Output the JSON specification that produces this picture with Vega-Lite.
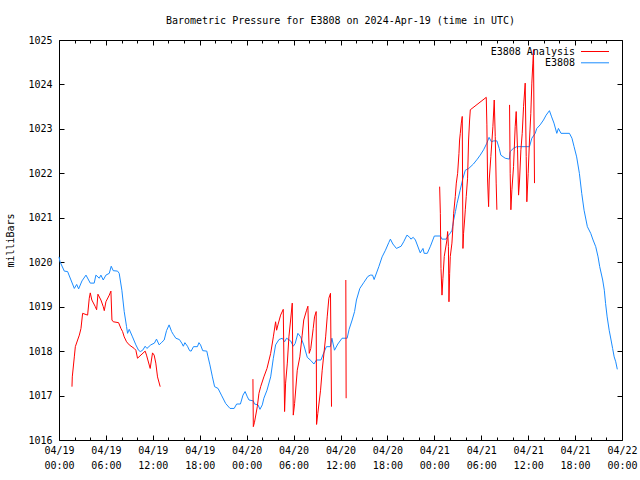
{
  "$schema": "https://vega.github.io/schema/vega-lite/v6.json",
  "width": 563,
  "height": 400,
  "autosize": "none",
  "padding": {"left": 59, "top": 40, "right": 18, "bottom": 40},
  "background": "white",
  "title": {"text": "Barometric Pressure for E3808 on 2024-Apr-19 (time in UTC)", "font": "DejaVu Sans Mono", "fontSize": 10, "fontWeight": "normal", "color": "black", "offset": 9},
  "config": {
    "view": {"stroke": "black", "strokeWidth": 1},
    "axis": {"domain": false, "grid": false, "labelFont": "DejaVu Sans Mono", "labelFontSize": 10, "labelColor": "black", "tickColor": "black", "tickWidth": 1, "titleFont": "DejaVu Sans Mono", "titleFontSize": 10, "titleFontWeight": "normal", "titleColor": "black", "labelOverlap": false, "labelFlush": false},
    "legend": {"labelFont": "DejaVu Sans Mono", "labelFontSize": 10, "labelColor": "black"}
  },
  "datasets": {
    "station": [
      {"h":0,"p":1020.12},{"h":0.13,"p":1020.01},{"h":0.68,"p":1019.8},{"h":1.1,"p":1019.79},{"h":1.96,"p":1019.41},{"h":2.26,"p":1019.5},{"h":2.51,"p":1019.4},{"h":2.94,"p":1019.58},{"h":3.45,"p":1019.71},{"h":4.0,"p":1019.53},{"h":4.5,"p":1019.53},{"h":4.72,"p":1019.71},{"h":5.15,"p":1019.64},{"h":5.36,"p":1019.71},{"h":5.66,"p":1019.6},{"h":6.0,"p":1019.71},{"h":6.43,"p":1019.75},{"h":6.68,"p":1019.91},{"h":6.93,"p":1019.81},{"h":7.49,"p":1019.8},{"h":7.7,"p":1019.75},{"h":8.04,"p":1019.37},{"h":8.34,"p":1018.89},{"h":8.64,"p":1018.55},{"h":8.77,"p":1018.4},{"h":8.98,"p":1018.49},{"h":9.4,"p":1018.32},{"h":9.83,"p":1018.14},{"h":10.17,"p":1018.02},{"h":10.4,"p":1017.99},{"h":10.7,"p":1018.02},{"h":11.02,"p":1018.11},{"h":11.24,"p":1018.06},{"h":11.74,"p":1018.14},{"h":12.2,"p":1018.18},{"h":12.47,"p":1018.27},{"h":12.81,"p":1018.14},{"h":13.15,"p":1018.2},{"h":13.45,"p":1018.25},{"h":13.75,"p":1018.46},{"h":14.08,"p":1018.59},{"h":14.4,"p":1018.44},{"h":14.6,"p":1018.38},{"h":14.94,"p":1018.29},{"h":15.4,"p":1018.26},{"h":15.7,"p":1018.18},{"h":15.9,"p":1018.11},{"h":16.1,"p":1018.19},{"h":16.43,"p":1018.11},{"h":16.7,"p":1018.01},{"h":16.9,"p":1018.0},{"h":17.2,"p":1018.1},{"h":17.7,"p":1018.1},{"h":17.9,"p":1018.19},{"h":18.1,"p":1018.14},{"h":18.38,"p":1018.01},{"h":18.9,"p":1018.0},{"h":19.06,"p":1017.87},{"h":19.3,"p":1017.69},{"h":19.62,"p":1017.42},{"h":19.9,"p":1017.2},{"h":20.34,"p":1017.16},{"h":20.77,"p":1017.01},{"h":21.32,"p":1016.82},{"h":21.87,"p":1016.71},{"h":22.4,"p":1016.71},{"h":22.72,"p":1016.81},{"h":23.2,"p":1016.81},{"h":23.53,"p":1017.01},{"h":23.8,"p":1017.09},{"h":24.09,"p":1016.97},{"h":24.3,"p":1016.9},{"h":24.85,"p":1016.88},{"h":25.0,"p":1016.81},{"h":25.45,"p":1016.79},{"h":25.7,"p":1016.69},{"h":26.0,"p":1016.79},{"h":26.2,"p":1016.94},{"h":26.6,"p":1017.12},{"h":27.07,"p":1017.42},{"h":27.41,"p":1017.84},{"h":27.7,"p":1018.14},{"h":28.13,"p":1018.26},{"h":28.55,"p":1018.29},{"h":28.85,"p":1018.21},{"h":29.1,"p":1018.29},{"h":29.62,"p":1018.23},{"h":29.96,"p":1018.11},{"h":30.2,"p":1018.17},{"h":30.55,"p":1018.4},{"h":30.9,"p":1018.32},{"h":31.3,"p":1018.14},{"h":31.75,"p":1017.86},{"h":32.2,"p":1017.79},{"h":32.6,"p":1017.71},{"h":32.92,"p":1017.8},{"h":33.5,"p":1017.8},{"h":33.85,"p":1017.96},{"h":34.2,"p":1018.1},{"h":34.7,"p":1018.1},{"h":34.9,"p":1018.29},{"h":35.23,"p":1018.02},{"h":35.66,"p":1018.16},{"h":36.2,"p":1018.29},{"h":36.85,"p":1018.29},{"h":37.1,"p":1018.49},{"h":37.49,"p":1018.7},{"h":37.8,"p":1018.89},{"h":38.04,"p":1019.15},{"h":38.47,"p":1019.41},{"h":39.0,"p":1019.55},{"h":39.5,"p":1019.68},{"h":39.83,"p":1019.71},{"h":40.1,"p":1019.71},{"h":40.3,"p":1019.61},{"h":40.9,"p":1019.9},{"h":41.32,"p":1020.12},{"h":41.75,"p":1020.27},{"h":42.17,"p":1020.44},{"h":42.38,"p":1020.52},{"h":42.7,"p":1020.41},{"h":43.15,"p":1020.31},{"h":43.75,"p":1020.36},{"h":44.08,"p":1020.46},{"h":44.5,"p":1020.61},{"h":44.85,"p":1020.56},{"h":45.0,"p":1020.52},{"h":45.3,"p":1020.56},{"h":45.58,"p":1020.5},{"h":46.2,"p":1020.21},{"h":46.55,"p":1020.31},{"h":46.7,"p":1020.2},{"h":47.1,"p":1020.2},{"h":47.5,"p":1020.36},{"h":48.0,"p":1020.59},{"h":48.77,"p":1020.59},{"h":48.98,"p":1020.52},{"h":49.5,"p":1020.52},{"h":49.83,"p":1020.61},{"h":50.06,"p":1020.66},{"h":50.26,"p":1020.72},{"h":50.47,"p":1020.95},{"h":50.7,"p":1021.14},{"h":50.9,"p":1021.32},{"h":51.3,"p":1021.62},{"h":51.66,"p":1021.89},{"h":51.96,"p":1022.07},{"h":52.4,"p":1022.11},{"h":53.0,"p":1022.21},{"h":53.5,"p":1022.32},{"h":53.87,"p":1022.41},{"h":54.3,"p":1022.53},{"h":54.72,"p":1022.68},{"h":55.0,"p":1022.81},{"h":55.3,"p":1022.71},{"h":55.6,"p":1022.73},{"h":56.0,"p":1022.73},{"h":56.3,"p":1022.56},{"h":56.5,"p":1022.41},{"h":57.06,"p":1022.34},{"h":57.6,"p":1022.32},{"h":57.7,"p":1022.49},{"h":58.1,"p":1022.56},{"h":58.55,"p":1022.6},{"h":60.17,"p":1022.6},{"h":60.47,"p":1022.79},{"h":60.9,"p":1022.9},{"h":61.1,"p":1023.01},{"h":61.53,"p":1023.09},{"h":61.96,"p":1023.2},{"h":62.3,"p":1023.31},{"h":62.72,"p":1023.41},{"h":63.0,"p":1023.27},{"h":63.3,"p":1023.13},{"h":63.66,"p":1022.9},{"h":63.87,"p":1023.01},{"h":64.2,"p":1022.9},{"h":65.28,"p":1022.9},{"h":65.6,"p":1022.79},{"h":65.87,"p":1022.6},{"h":66.2,"p":1022.37},{"h":66.55,"p":1022.0},{"h":66.85,"p":1021.55},{"h":67.15,"p":1021.17},{"h":67.57,"p":1020.8},{"h":68.0,"p":1020.65},{"h":68.3,"p":1020.5},{"h":68.64,"p":1020.35},{"h":68.94,"p":1020.12},{"h":69.15,"p":1019.9},{"h":69.53,"p":1019.6},{"h":69.74,"p":1019.37},{"h":69.9,"p":1019.07},{"h":70.1,"p":1018.77},{"h":70.36,"p":1018.47},{"h":70.6,"p":1018.25},{"h":70.8,"p":1018.06},{"h":71.0,"p":1017.87},{"h":71.2,"p":1017.76},{"h":71.4,"p":1017.59}
    ],
    "analysis": [
      {"seg":1,"h":1.66,"p":1017.2},{"seg":1,"h":1.7,"p":1017.42},{"seg":1,"h":1.96,"p":1017.87},{"seg":1,"h":2.09,"p":1018.1},{"seg":1,"h":2.38,"p":1018.25},{"seg":1,"h":2.6,"p":1018.36},{"seg":1,"h":2.81,"p":1018.51},{"seg":1,"h":3.02,"p":1018.85},{"seg":1,"h":3.66,"p":1018.81},{"seg":1,"h":3.87,"p":1019.19},{"seg":1,"h":4.0,"p":1019.31},{"seg":1,"h":4.2,"p":1019.15},{"seg":1,"h":4.64,"p":1019.0},{"seg":1,"h":4.81,"p":1018.93},{"seg":1,"h":4.98,"p":1019.28},{"seg":1,"h":5.36,"p":1019.15},{"seg":1,"h":5.66,"p":1019.0},{"seg":1,"h":5.79,"p":1018.91},{"seg":1,"h":6.0,"p":1019.11},{"seg":1,"h":6.43,"p":1019.26},{"seg":1,"h":6.64,"p":1019.35},{"seg":1,"h":6.77,"p":1018.7},{"seg":1,"h":6.94,"p":1018.66},{"seg":1,"h":7.62,"p":1018.64},{"seg":1,"h":7.92,"p":1018.51},{"seg":1,"h":8.13,"p":1018.44},{"seg":1,"h":8.34,"p":1018.32},{"seg":1,"h":8.64,"p":1018.21},{"seg":1,"h":8.98,"p":1018.14},{"seg":1,"h":9.62,"p":1018.06},{"seg":1,"h":9.83,"p":1018.02},{"seg":1,"h":10.04,"p":1017.84},{"seg":1,"h":11.02,"p":1018.0},{"seg":1,"h":11.19,"p":1017.91},{"seg":1,"h":11.66,"p":1017.61},{"seg":1,"h":11.96,"p":1017.96},{"seg":1,"h":12.17,"p":1017.91},{"seg":1,"h":12.38,"p":1017.73},{"seg":1,"h":12.6,"p":1017.42},{"seg":1,"h":12.94,"p":1017.2},
      {"seg":2,"h":24.8,"p":1017.37},{"seg":2,"h":24.85,"p":1016.3},{"seg":2,"h":25.0,"p":1016.4},{"seg":2,"h":25.36,"p":1016.75},{"seg":2,"h":25.57,"p":1017.05},{"seg":2,"h":25.79,"p":1017.2},{"seg":2,"h":26.2,"p":1017.42},{"seg":2,"h":26.6,"p":1017.61},{"seg":2,"h":27.07,"p":1017.95},{"seg":2,"h":27.41,"p":1018.32},{"seg":2,"h":27.7,"p":1018.66},{"seg":2,"h":27.83,"p":1018.47},{"seg":2,"h":28.0,"p":1018.59},{"seg":2,"h":28.34,"p":1018.81},{"seg":2,"h":28.68,"p":1018.94},{"seg":2,"h":28.85,"p":1016.64},{"seg":2,"h":28.98,"p":1017.28},{"seg":2,"h":29.2,"p":1017.73},{"seg":2,"h":29.4,"p":1018.32},{"seg":2,"h":29.62,"p":1018.7},{"seg":2,"h":29.83,"p":1019.08},{"seg":2,"h":29.96,"p":1016.56},{"seg":2,"h":30.13,"p":1016.82},{"seg":2,"h":30.47,"p":1017.57},{"seg":2,"h":30.8,"p":1017.87},{"seg":2,"h":31.1,"p":1018.36},{"seg":2,"h":31.3,"p":1018.7},{"seg":2,"h":31.66,"p":1018.92},{"seg":2,"h":31.83,"p":1019.01},{"seg":2,"h":32.0,"p":1017.95},{"seg":2,"h":32.2,"p":1018.06},{"seg":2,"h":32.51,"p":1018.51},{"seg":2,"h":32.68,"p":1018.77},{"seg":2,"h":32.89,"p":1018.89},{"seg":2,"h":32.94,"p":1016.35},{"seg":2,"h":33.1,"p":1016.6},{"seg":2,"h":33.45,"p":1017.12},{"seg":2,"h":33.66,"p":1017.57},{"seg":2,"h":34.1,"p":1018.32},{"seg":2,"h":34.3,"p":1018.77},{"seg":2,"h":34.51,"p":1019.19},{"seg":2,"h":34.72,"p":1019.3},{"seg":2,"h":34.85,"p":1016.75},
      {"seg":3,"h":36.68,"p":1019.6},{"seg":3,"h":36.72,"p":1016.94},
      {"seg":4,"h":48.68,"p":1021.7},{"seg":4,"h":48.77,"p":1021.1},{"seg":4,"h":48.85,"p":1019.86},{"seg":4,"h":48.98,"p":1019.26},{"seg":4,"h":49.1,"p":1019.64},{"seg":4,"h":49.27,"p":1020.13},{"seg":4,"h":49.61,"p":1020.5},{"seg":4,"h":49.7,"p":1020.69},{"seg":4,"h":49.8,"p":1020.35},{"seg":4,"h":49.87,"p":1019.11},{"seg":4,"h":49.96,"p":1019.75},{"seg":4,"h":50.04,"p":1020.13},{"seg":4,"h":50.25,"p":1020.43},{"seg":4,"h":50.38,"p":1020.8},{"seg":4,"h":50.47,"p":1021.1},{"seg":4,"h":50.68,"p":1021.48},{"seg":4,"h":50.81,"p":1021.78},{"seg":4,"h":50.98,"p":1022.0},{"seg":4,"h":51.15,"p":1022.45},{"seg":4,"h":51.23,"p":1022.75},{"seg":4,"h":51.32,"p":1022.9},{"seg":4,"h":51.45,"p":1023.13},{"seg":4,"h":51.57,"p":1023.28},{"seg":4,"h":51.66,"p":1020.31},{"seg":4,"h":51.74,"p":1020.65},{"seg":4,"h":51.87,"p":1020.95},{"seg":4,"h":51.96,"p":1021.18},{"seg":4,"h":52.08,"p":1021.48},{"seg":4,"h":52.25,"p":1021.89},{"seg":4,"h":52.38,"p":1022.75},{"seg":4,"h":52.51,"p":1023.2},{"seg":4,"h":52.6,"p":1023.43},{"seg":4,"h":54.64,"p":1023.71},{"seg":4,"h":54.72,"p":1023.09},{"seg":4,"h":54.81,"p":1021.85},{"seg":4,"h":54.94,"p":1021.25},{"seg":4,"h":55.02,"p":1021.85},{"seg":4,"h":55.23,"p":1022.38},{"seg":4,"h":55.49,"p":1023.05},{"seg":4,"h":55.66,"p":1023.65},{"seg":4,"h":55.79,"p":1022.83},{"seg":4,"h":55.91,"p":1021.78},{"seg":4,"h":56.0,"p":1021.18},
      {"seg":5,"h":57.62,"p":1023.54},{"seg":5,"h":57.7,"p":1022.0},{"seg":5,"h":57.79,"p":1021.18},{"seg":5,"h":57.92,"p":1021.63},{"seg":5,"h":58.13,"p":1022.15},{"seg":5,"h":58.34,"p":1023.05},{"seg":5,"h":58.47,"p":1023.39},{"seg":5,"h":58.64,"p":1022.53},{"seg":5,"h":58.77,"p":1021.51},{"seg":5,"h":58.9,"p":1021.85},{"seg":5,"h":59.07,"p":1022.53},{"seg":5,"h":59.24,"p":1022.9},{"seg":5,"h":59.41,"p":1023.5},{"seg":5,"h":59.62,"p":1024.03},{"seg":5,"h":59.75,"p":1022.38},{"seg":5,"h":59.83,"p":1021.36},{"seg":5,"h":60.0,"p":1022.0},{"seg":5,"h":60.17,"p":1022.75},{"seg":5,"h":60.34,"p":1023.35},{"seg":5,"h":60.47,"p":1024.03},{"seg":5,"h":60.6,"p":1024.48},{"seg":5,"h":60.68,"p":1024.78},{"seg":5,"h":60.81,"p":1021.78}
    ]
  },
  "layer": [
    {
      "data": {"name": "station"},
      "mark": {"type": "line", "strokeWidth": 1, "interpolate": "linear"},
      "encoding": {
        "x": {"field": "h", "type": "quantitative", "scale": {"domain": [0, 72], "nice": false, "zero": false},
          "axis": {"orient": "bottom", "title": null, "values": [0,2,4,6,8,10,12,14,16,18,20,22,24,26,28,30,32,34,36,38,40,42,44,46,48,50,52,54,56,58,60,62,64,66,68,70,72],
            "tickSize": {"condition": {"test": "datum.value % 6 === 0", "value": -5}, "value": -3},
            "labelExpr": "datum.value % 6 === 0 ? ['04/' + (19 + floor(datum.value / 24)), (datum.value % 24 < 10 ? '0' : '') + (datum.value % 24) + ':00'] : ''",
            "labelBaseline": "top", "labelLineHeight": 15, "labelPadding": 10}},
        "y": {"field": "p", "type": "quantitative", "scale": {"domain": [1016, 1025], "nice": false, "zero": false},
          "axis": {"orient": "left", "title": "milliBars", "format": "d", "values": [1016,1017,1018,1019,1020,1021,1022,1023,1024,1025], "tickSize": -5, "labelPadding": 12, "titlePadding": 12}},
        "color": {"datum": "E3808", "scale": {"domain": ["E3808 Analysis", "E3808"], "range": ["#ff0000", "#1a8cff"]},
          "legend": {"title": null, "orient": "none", "legendX": 531, "legendY": 6.5, "symbolType": "M-7,0H7", "symbolSize": 16, "symbolStrokeWidth": 1, "labelAlign": "right", "labelOffset": -25, "rowPadding": 1.3, "padding": 0}}
      }
    },
    {
      "data": {"name": "analysis"},
      "mark": {"type": "line", "strokeWidth": 1, "interpolate": "linear"},
      "encoding": {
        "x": {"field": "h", "type": "quantitative",
          "axis": {"orient": "top", "title": null, "labels": false, "values": [0,2,4,6,8,10,12,14,16,18,20,22,24,26,28,30,32,34,36,38,40,42,44,46,48,50,52,54,56,58,60,62,64,66,68,70,72],
            "tickSize": {"condition": {"test": "datum.value % 6 === 0", "value": -5}, "value": -3}}},
        "y": {"field": "p", "type": "quantitative",
          "axis": {"orient": "right", "title": null, "labels": false, "values": [1016,1017,1018,1019,1020,1021,1022,1023,1024,1025], "tickSize": -5}},
        "detail": {"field": "seg", "type": "nominal"},
        "color": {"datum": "E3808 Analysis"}
      }
    }
  ],
  "resolve": {"axis": {"x": "independent", "y": "independent"}}
}
